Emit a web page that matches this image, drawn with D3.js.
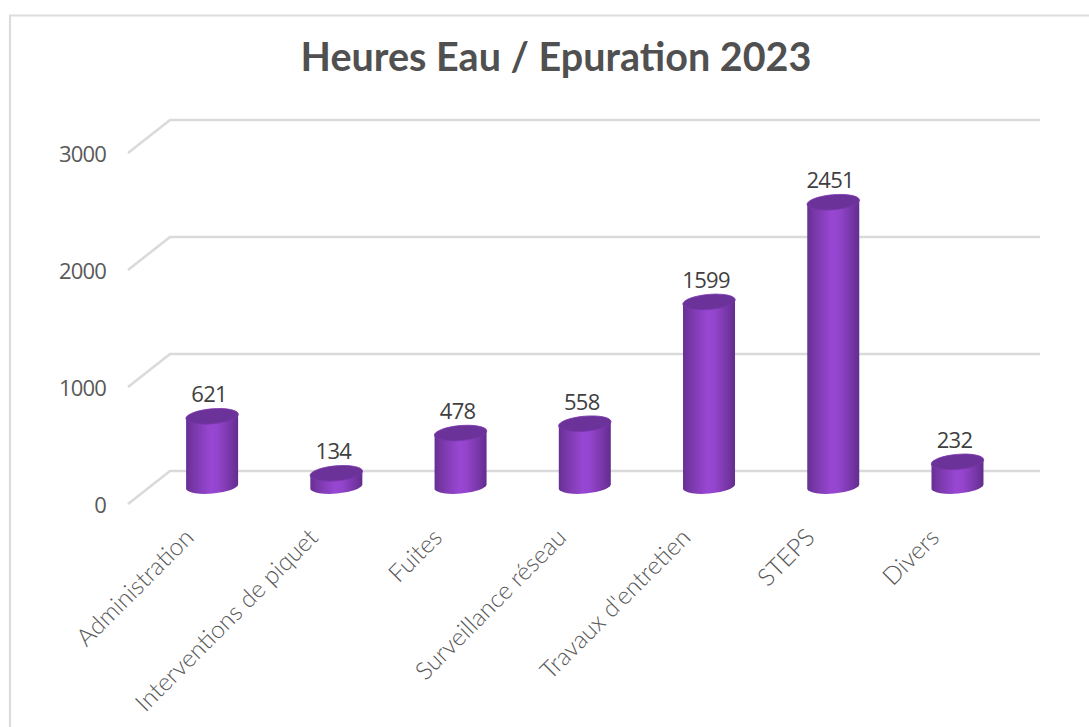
<!DOCTYPE html>
<html><head><meta charset="utf-8">
<style>html,body{margin:0;padding:0;background:#fff;overflow:hidden}svg{display:block}</style>
<script src="https://cdn.jsdelivr.net/npm/d3@7"></script></head>
<body><svg id="c" width="1089" height="727"></svg>
<script>
const categories = ["Administration","Interventions de piquet","Fuites","Surveillance réseau","Travaux d'entretien","STEPS","Divers"];
const values = [621,134,478,558,1599,2451,232];
const yTicks = [0,1000,2000,3000];
const titleText = "Heures Eau / Epuration 2023";

const svg = d3.select("#c");
const W = 1089, H = 727;
const x = d3.scaleBand().domain(categories).range([150,1019.6]).paddingInner(0).paddingOuter(0);
const y = d3.scaleLinear().domain([0,3000]).range([489,138]);
const depthX = 42, depthY = 33;
const rx = 26, ry = 7.5, tilt = -5;

const defs = svg.append("defs");
const g = defs.append("linearGradient").attr("id","body").attr("x1","0").attr("x2","1").attr("y1","0").attr("y2","0");
[[0,"#662f94"],[0.14,"#7838a8"],[0.47,"#9847d3"],[0.6,"#9445cd"],[0.86,"#7636a5"],[1,"#622d8e"]]
  .forEach(d=>g.append("stop").attr("offset",d[0]).attr("stop-color",d[1]));

svg.append("path").attr("d",`M10,${H+5}V15.5H${W+5}`).attr("fill","none").attr("stroke","#dcdcdc").attr("stroke-width",2.2);

const gy = v => y(v) - 18;
const grid = svg.append("g").attr("fill","none").attr("stroke","#dadada").attr("stroke-width",2.6);
yTicks.forEach(t=>{
  const b = gy(t);
  grid.append("path").attr("d",`M${128},${b+depthY}L${128+depthX},${b}H1040`);
});

svg.append("g").selectAll("text").data(yTicks).join("text")
  .attr("x",106).attr("y",d=>gy(d)+depthY+9).attr("text-anchor","end")
  .attr("font-family","'Open Sans'").attr("font-size",22).attr("letter-spacing",-0.85).attr("fill","#595959").text(d=>d);

const dy = rx*Math.sin(tilt*Math.PI/180);
const bars = svg.append("g").selectAll("g").data(categories).join("g");
bars.each(function(c,i){
  const cx = x(c)+x.bandwidth()/2, top = y(values[i]), base = y(0) - 2, s = d3.select(this);
  s.append("path").attr("fill","url(#body)")
    .attr("d",`M${cx-rx},${top-dy}L${cx+rx},${top+dy}L${cx+rx},${base+dy}A${rx+0.3},${ry} ${tilt} 0 1 ${cx-rx},${base-dy}Z`);
  s.append("ellipse").attr("transform",`translate(${cx},${top}) rotate(${tilt})`)
    .attr("rx",rx+0.3).attr("ry",ry).attr("fill","#6b3299").attr("stroke","#7a36ad").attr("stroke-width",0.8);
  s.append("text").attr("x",cx-3).attr("y",top-14).attr("text-anchor","middle")
    .attr("font-family","'Open Sans'").attr("font-size",22).attr("letter-spacing",-0.7).attr("fill","#404040").text(values[i]);
});

svg.append("g").selectAll("text").data(categories).join("text")
  .attr("transform",d=>`translate(${x(d)+x.bandwidth()/2-23},${533}) rotate(-45)`)
  .attr("text-anchor","end").attr("dy","0.35em")
  .attr("font-family","Lato").attr("font-weight",300).attr("font-size",24.5).attr("fill","#595959").text(d=>d);

svg.append("text").attr("x",556).attr("y",71).attr("text-anchor","middle")
  .attr("font-family","Lato").attr("font-weight",700).attr("font-size",39.5).attr("fill","#505050").text(titleText);
</script></body></html>
